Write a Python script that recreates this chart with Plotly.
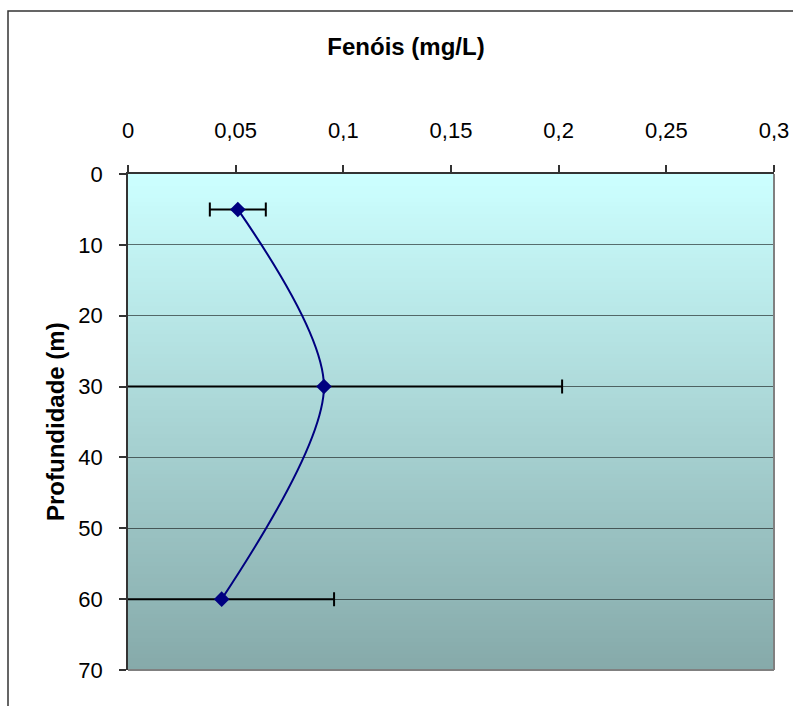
import plotly.graph_objects as go

# Phenol concentration profile by depth
depth_m = [5, 30, 60]
phenols_mg_l = [0.051, 0.091, 0.0435]
phenols_err = [0.013, 0.1106, 0.0522]

x_ticks = [0, 0.05, 0.1, 0.15, 0.2, 0.25, 0.3]
y_ticks = [0, 10, 20, 30, 40, 50, 60, 70]

W, H = 793, 706
M_L, M_R, M_T, M_B = 128, 19, 174, 36
plot_w = W - M_L - M_R
plot_h = H - M_T - M_B

fig = go.Figure()

fig.add_trace(go.Scatter(
    x=phenols_mg_l,
    y=depth_m,
    mode="lines+markers",
    line=dict(color="#000080", width=2, shape="spline", smoothing=0.85),
    marker=dict(symbol="diamond", size=12, color="#000080"),
    error_x=dict(type="data", array=phenols_err, symmetric=True,
                 color="#000000", thickness=2, width=7),
    cliponaxis=True,
    showlegend=False,
))

# vertical gradient plot background, light cyan to grey-teal
top_rgb = (204, 255, 255)
bot_rgb = (134, 170, 170)
n_strips = 124
shapes = []
for i in range(n_strips):
    t = i / (n_strips - 1)
    c = tuple(round(a + (b - a) * t) for a, b in zip(top_rgb, bot_rgb))
    y1 = 1 - i / n_strips
    y0 = 1 - (i + 1) / n_strips
    shapes.append(dict(type="rect", xref="x domain", yref="y domain",
                       x0=0, x1=1, y0=y0 - 0.002, y1=y1,
                       fillcolor="rgb(%d,%d,%d)" % c, line=dict(width=0),
                       layer="below"))

# grey frame on the right and bottom of the plot area
shapes.append(dict(type="line", xref="x domain", yref="y domain",
                   x0=1, x1=1, y0=0, y1=1, line=dict(color="#808080", width=2)))
shapes.append(dict(type="line", xref="x domain", yref="y domain",
                   x0=0, x1=1, y0=0, y1=0, line=dict(color="#808080", width=2)))

# outer chart border
fx0 = (8 - M_L) / plot_w
fy1 = (H - M_B - 11) / plot_h
shapes.append(dict(type="rect", xref="paper", yref="paper",
                   x0=fx0, x1=1.2, y0=-0.3, y1=fy1,
                   line=dict(color="#333333", width=1.5),
                   fillcolor="rgba(0,0,0,0)"))

tick_font = dict(family="Liberation Sans, Arial, sans-serif", size=22, color="#000000")
title_font = dict(family="Liberation Sans, Arial, sans-serif", size=24, color="#000000")

fig.update_layout(
    width=W, height=H,
    margin=dict(l=M_L, r=M_R, t=M_T, b=M_B, pad=0, autoexpand=False),
    paper_bgcolor="#ffffff",
    plot_bgcolor="#ccffff",
    separators=",.",
    shapes=shapes,
    title=dict(text="<b>Fenóis (mg/L)</b>", font=title_font,
               xref="container", x=406 / W, xanchor="center",
               yref="container", y=1 - 47 / H, yanchor="middle"),
    annotations=[dict(text="<b>Profundidade (m)</b>", font=title_font,
                      xref="paper", yref="paper",
                      x=(55 - M_L) / plot_w, y=0.5,
                      xanchor="center", yanchor="middle",
                      textangle=-90, showarrow=False)],
    xaxis=dict(
        side="top", range=[0, 0.3], tickvals=x_ticks,
        ticks="outside", ticklen=7, tickwidth=1.5, tickcolor="#333333",
        showline=True, linecolor="#333333", linewidth=1.5,
        showgrid=False, zeroline=False, automargin=False,
        tickfont=tick_font, ticklabelstandoff=18,
    ),
    yaxis=dict(
        range=[70, 0], tickvals=y_ticks,
        ticks="outside", ticklen=7, tickwidth=1.5, tickcolor="#333333",
        showline=True, linecolor="#333333", linewidth=1.5,
        showgrid=True, gridcolor="rgba(0,0,0,0.55)", gridwidth=1,
        zeroline=False, automargin=False,
        tickfont=tick_font, ticklabelstandoff=12,
    ),
)

fig.write_html("out.html")
